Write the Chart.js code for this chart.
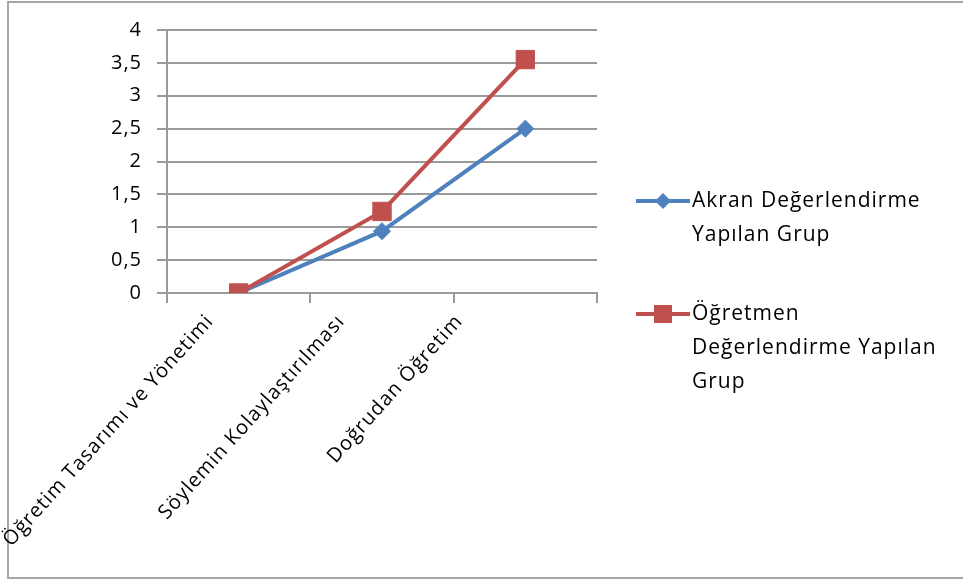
<!DOCTYPE html>
<html>
<head>
<meta charset="utf-8">
<script src="https://cdn.jsdelivr.net/npm/chart.js@4/dist/chart.umd.min.js"></script>
<style>
  html, body { margin: 0; padding: 0; background: #fff; }
  #wrap { position: relative; width: 963px; height: 581px; }
</style>
</head>
<body>
<div id="wrap"><canvas id="c" width="963" height="581"></canvas></div>
<script>
// Categories along the x axis
const categories = ['Öğretim Tasarımı ve Yönetimi', 'Söylemin Kolaylaştırılması', 'Doğrudan Öğretim'];

// Series values
const akranValues = [0, 0.94, 2.5];
const ogretmenValues = [0, 1.24, 3.55];

// Series names, split into the lines shown in the legend
const akranName = ['Akran Değerlendirme', 'Yapılan Grup'];
const ogretmenName = ['Öğretmen', 'Değerlendirme Yapılan', 'Grup'];

// Value axis tick labels (decimal comma)
const yTickLabels = ['0', '0,5', '1', '1,5', '2', '2,5', '3', '3,5', '4'];

const FONT = 'Open Sans';
const FONT_SIZE = 20;
const LEGEND_SIZE = 21;
const TEXT_COLOR = '#000';
const GRID_COLOR = '#9a9a9a';
const BLUE = '#4f81bd';
const RED = '#c0504d';
const SPACING = '1px';
const LABEL_ROTATION = 48;
const LABEL_SHIFT = -139; // horizontal shift of each rotated label's centre from its tick

// Frame around the whole chart and a little tracking on all text
const framePlugin = {
  id: 'frame',
  beforeUpdate(chart) { chart.ctx.letterSpacing = SPACING; },
  beforeDraw(chart) {
    const ctx = chart.ctx;
    ctx.letterSpacing = SPACING;
    ctx.save();
    ctx.fillStyle = '#fff';
    ctx.fillRect(0, 0, chart.width, chart.height);
    ctx.strokeStyle = '#a6a6a6';
    ctx.lineWidth = 2;
    ctx.strokeRect(8, 2, chart.width + 20, 576);
    ctx.restore();

    // Centre each slanted category label horizontally at a fixed shift from its tick,
    // keeping the upper ends on one line.
    const xs = chart.scales.x;
    const items = xs.getLabelItems();
    const ang = LABEL_ROTATION * Math.PI / 180;
    items.forEach((it, i) => {
      if (it._shifted) return;
      ctx.save();
      ctx.font = it.font.string;
      const w = ctx.measureText(String(it.label)).width;
      ctx.restore();
      const tickX = xs.getPixelForTick(i);
      it.options.translation[0] = tickX + LABEL_SHIFT + (w / 2) * Math.cos(ang);
      it._shifted = true;
    });
  }
};

// Legend on the right, with wrapped series names
const legendPlugin = {
  id: 'sideLegend',
  afterDraw(chart) {
    const ctx = chart.ctx;
    const items = [
      { ds: chart.data.datasets[0], lines: akranName, y: 201 },
      { ds: chart.data.datasets[1], lines: ogretmenName, y: 314 }
    ];
    const x0 = 636, x1 = 690, lineH = 34;
    ctx.save();
    ctx.letterSpacing = SPACING;
    items.forEach(it => {
      const c = it.ds.borderColor;
      ctx.strokeStyle = c;
      ctx.lineWidth = 4;
      ctx.beginPath();
      ctx.moveTo(x0, it.y);
      ctx.lineTo(x1, it.y);
      ctx.stroke();
      const cx = (x0 + x1) / 2;
      ctx.fillStyle = c;
      if (it.ds.pointStyle === 'rect') {
        ctx.fillRect(cx - 9, it.y - 9, 18, 18);
      } else {
        ctx.beginPath();
        ctx.moveTo(cx, it.y - 8);
        ctx.lineTo(cx + 8, it.y);
        ctx.lineTo(cx, it.y + 8);
        ctx.lineTo(cx - 8, it.y);
        ctx.closePath();
        ctx.fill();
      }
      ctx.fillStyle = TEXT_COLOR;
      ctx.font = LEGEND_SIZE + 'px "' + FONT + '"';
      ctx.textAlign = 'left';
      ctx.textBaseline = 'middle';
      it.lines.forEach((t, i) => ctx.fillText(t, x1 + 2, it.y + i * lineH));
    });
    ctx.restore();
  }
};

Chart.defaults.font.family = FONT;
Chart.defaults.font.size = FONT_SIZE;
Chart.defaults.color = TEXT_COLOR;

new Chart(document.getElementById('c'), {
  type: 'line',
  data: {
    labels: categories,
    datasets: [
      {
        label: akranName.join(' '),
        data: akranValues,
        borderColor: BLUE,
        backgroundColor: BLUE,
        borderWidth: 4,
        pointStyle: 'rectRot',
        pointRadius: 8.5,
        pointBorderWidth: 1,
        tension: 0,
        order: 1
      },
      {
        label: ogretmenName.join(' '),
        data: ogretmenValues,
        borderColor: RED,
        backgroundColor: RED,
        borderWidth: 4,
        pointStyle: 'rect',
        pointRadius: 13,
        pointBorderWidth: 1,
        tension: 0,
        order: 0
      }
    ]
  },
  options: {
    responsive: false,
    animation: false,
    events: [],
    layout: { padding: { top: 30, right: 366, bottom: 0, left: 0 } },
    plugins: { legend: { display: false }, tooltip: { enabled: false } },
    scales: {
      x: {
        type: 'category',
        offset: true,
        afterFit(scale) { scale.height = 581 - 293; },
        grid: {
          display: true,
          drawOnChartArea: false,
          drawTicks: true,
          tickLength: 10,
          offset: true,
          color: GRID_COLOR,
          lineWidth: 2
        },
        border: { display: true, color: GRID_COLOR, width: 2 },
        ticks: {
          autoSkip: false,
          minRotation: LABEL_ROTATION,
          maxRotation: LABEL_ROTATION,
          padding: 7,
          color: TEXT_COLOR
        }
      },
      y: {
        min: 0,
        max: 4,
        afterFit(scale) { scale.width = 167; },
        afterBuildTicks(scale) {
          scale.ticks = yTickLabels.map((_, i) => ({ value: i * 0.5 }));
        },
        grid: { color: GRID_COLOR, lineWidth: 2, tickLength: 10, drawTicks: true },
        border: { display: true, color: GRID_COLOR, width: 2 },
        ticks: {
          padding: 15,
          color: TEXT_COLOR,
          callback(value, index) { return yTickLabels[index]; }
        }
      }
    }
  },
  plugins: [framePlugin, legendPlugin]
});
</script>
</body>
</html>
